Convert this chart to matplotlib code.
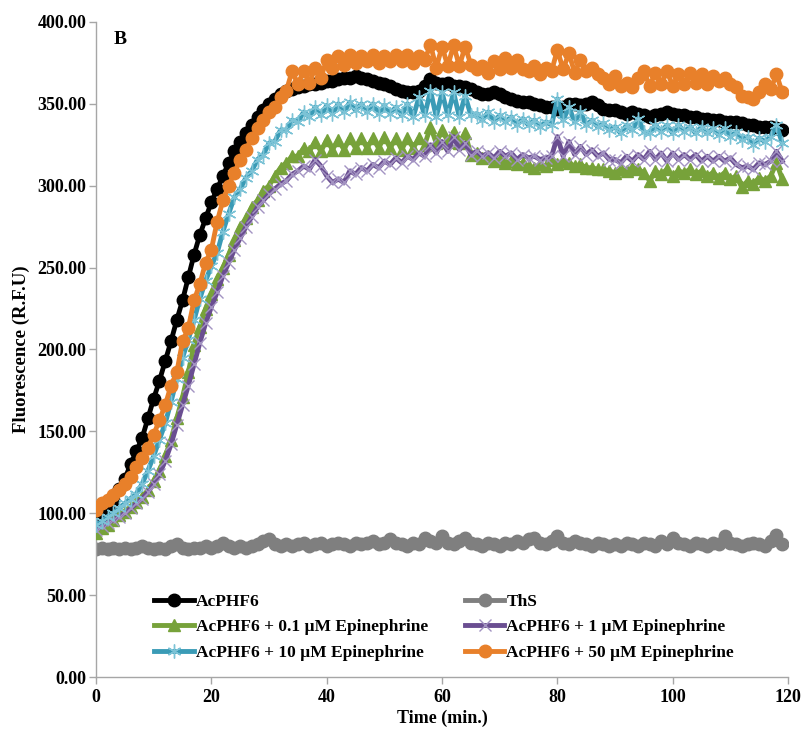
import matplotlib
matplotlib.use("Agg")
import matplotlib.pyplot as plt
from matplotlib.ticker import FormatStrFormatter, MultipleLocator

time_min = list(range(0, 120))

acphf6 = [96, 99, 103, 108, 115, 121, 130, 138, 146, 158,
          170, 181, 193, 205, 218, 230, 244, 258, 270, 280,
          290, 298, 306, 314, 321, 327, 332, 337, 342, 346,
          350, 353, 356, 358, 359, 360, 361, 362, 362, 363,
          364, 364, 365, 366, 366, 367, 366, 365, 364, 363,
          362, 361, 359, 358, 357, 357, 358, 361, 365, 363,
          362, 363, 361, 361, 360, 359, 357, 356, 356, 357,
          356, 354, 353, 352, 351, 351, 350, 349, 348, 348,
          347, 348, 350, 350, 349, 350, 351, 349, 347, 346,
          346, 345, 344, 345, 344, 343, 342, 343, 344, 345,
          344, 343, 343, 342, 342, 341, 341, 340, 340, 339,
          339, 339, 338, 337, 337, 336, 336, 336, 335, 334]

ths = [78, 79, 78, 79, 78, 79, 78, 79, 80, 79,
       78, 79, 78, 80, 81, 79, 78, 79, 79, 80,
       79, 80, 82, 80, 79, 80, 79, 80, 81, 83,
       84, 81, 80, 81, 80, 81, 82, 80, 81, 82,
       80, 81, 82, 81, 80, 82, 81, 82, 83, 81,
       82, 84, 82, 81, 80, 82, 81, 85, 83, 82,
       86, 82, 81, 83, 85, 82, 81, 80, 82, 81,
       80, 82, 81, 83, 82, 84, 85, 82, 81, 83,
       86, 82, 81, 83, 82, 81, 80, 82, 81, 80,
       81, 80, 82, 81, 80, 82, 81, 80, 83, 81,
       85, 82, 81, 80, 82, 81, 80, 82, 81, 86,
       82, 81, 80, 81, 82, 81, 80, 83, 87, 81]

epi_0_1 = [88, 91, 93, 96, 99, 101, 104, 107, 110, 114,
           120, 126, 135, 145, 158, 171, 186, 203, 214, 225,
           234, 243, 250, 258, 267, 275, 280, 287, 291, 297,
           300, 306, 311, 314, 318, 318, 323, 321, 327, 321,
           328, 322, 328, 322, 329, 323, 329, 323, 329, 323,
           330, 323, 329, 322, 329, 323, 329, 325, 336, 326,
           334, 327, 333, 326, 332, 319, 320, 317, 318, 315,
           316, 314, 315, 313, 314, 312, 311, 313, 312, 316,
           313, 315, 314, 312, 313, 311, 311, 310, 310, 309,
           308, 310, 309, 311, 310, 308, 303, 309, 307, 310,
           306, 309, 308, 310, 307, 309, 306, 308, 305, 308,
           304, 306, 299, 303, 301, 305, 303, 306, 314, 304]

epi_1 = [90, 92, 94, 96, 98, 100, 103, 106, 109, 113,
         118, 124, 132, 142, 154, 166, 178, 191, 204, 216,
         226, 235, 245, 253, 261, 268, 275, 281, 287, 291,
         295, 298, 301, 303, 307, 309, 312, 310, 316, 312,
         306, 302, 304, 302, 309, 307, 311, 309, 313, 311,
         315, 313, 317, 314, 318, 316, 320, 318, 325, 320,
         327, 321, 330, 322, 326, 319, 321, 318, 320, 317,
         321, 318, 320, 316, 319, 317, 318, 316, 317, 318,
         330, 318, 327, 319, 324, 319, 322, 318, 320, 316,
         316, 314, 318, 315, 319, 316, 321, 316, 320, 315,
         320, 316, 319, 316, 319, 315, 318, 315, 318, 315,
         317, 313, 311, 312, 310, 314, 313, 315, 321, 315]

epi_10 = [93, 95, 98, 100, 103, 106, 109, 112, 118, 126,
          135, 145, 155, 168, 182, 195, 206, 218, 231, 242,
          251, 259, 272, 283, 293, 298, 305, 309, 316, 319,
          326, 327, 334, 334, 340, 339, 345, 342, 348, 343,
          349, 344, 350, 345, 351, 346, 350, 345, 350, 344,
          349, 344, 348, 343, 350, 342, 354, 343, 358, 342,
          357, 343, 357, 342, 355, 343, 344, 340, 345, 339,
          343, 339, 342, 337, 341, 337, 340, 336, 339, 337,
          353, 340, 348, 339, 345, 337, 340, 336, 338, 334,
          336, 332, 337, 334, 341, 333, 332, 337, 333, 337,
          332, 337, 333, 336, 332, 336, 332, 335, 331, 335,
          330, 333, 328, 330, 325, 329, 327, 330, 337, 326]

epi_50 = [102, 106, 108, 111, 114, 118, 122, 128, 134, 140,
          148, 157, 166, 178, 186, 205, 213, 230, 240, 253,
          261, 278, 291, 300, 308, 316, 322, 329, 335, 340,
          345, 348, 354, 358, 370, 362, 370, 363, 372, 366,
          377, 372, 379, 374, 380, 375, 379, 376, 380, 375,
          379, 376, 380, 376, 380, 375, 379, 377, 386, 372,
          385, 373, 386, 373, 385, 374, 371, 373, 369, 376,
          371, 378, 372, 377, 371, 370, 373, 368, 372, 370,
          383, 371, 381, 369, 377, 370, 372, 368, 366, 362,
          367, 361, 363, 360, 366, 370, 361, 369, 362, 370,
          361, 368, 362, 369, 363, 368, 362, 367, 364, 366,
          362, 360, 355, 354, 353, 357, 362, 359, 368, 357]

labels = ["AcPHF6", "ThS", "AcPHF6 + 0.1 \u00b5M Epinephrine",
          "AcPHF6 + 1 \u00b5M Epinephrine", "AcPHF6 + 10 \u00b5M Epinephrine",
          "AcPHF6 + 50 \u00b5M Epinephrine"]

plt.rcParams['font.family'] = ['Liberation Serif', 'DejaVu Serif']
plt.rcParams['font.weight'] = 'bold'

fig = plt.figure(figsize=(8.01, 7.32), dpi=100)
ax = fig.add_axes([0.1199, 0.0751, 0.8639, 0.8949])

h_black, = ax.plot(time_min, acphf6, color='#000000', lw=3.5, marker='o', ms=9,
                   mec='#000000', mfc='#000000', zorder=3, label=labels[0])
h_gray, = ax.plot(time_min, ths, color='#7f7f7f', lw=3.5, marker='o', ms=9,
                  mec='#7f7f7f', mfc='#7f7f7f', zorder=2, label=labels[1])
h_green, = ax.plot(time_min, epi_0_1, color='#77a23a', lw=3.5, marker='^', ms=8.5,
                   mec='#77a23a', mfc='#77a23a', zorder=4, label=labels[2])
h_purple, = ax.plot(time_min, epi_1, color='#6a4e91', lw=3.5, marker='x', ms=8,
                    mec='#a393c2', mew=1.0, zorder=5, label=labels[3])
h_cyan, = ax.plot(time_min, epi_10, color='#3a9bb6', lw=3.5, marker=(6, 2, 0), ms=10,
                  mec='#7cc3d6', mew=1.0, zorder=6, label=labels[4])
h_orange, = ax.plot(time_min, epi_50, color='#e8802a', lw=3.5, marker='o', ms=9,
                    mec='#e8802a', mfc='#e8802a', zorder=7, label=labels[5])

ax.set_xlim(0, 120)
ax.set_ylim(0, 400)
ax.xaxis.set_major_locator(MultipleLocator(20))
ax.yaxis.set_major_locator(MultipleLocator(50))
ax.yaxis.set_major_formatter(FormatStrFormatter('%.2f'))

for s in ['top', 'right']:
    ax.spines[s].set_visible(False)
for s in ['left', 'bottom']:
    ax.spines[s].set_color('#a6a6a6')
    ax.spines[s].set_linewidth(1.0)
ax.tick_params(axis='both', direction='out', length=5, color='#a6a6a6',
               labelsize=13, width=1.0)
ax.tick_params(axis='y', pad=2)
for lab in ax.get_xticklabels() + ax.get_yticklabels():
    lab.set_fontweight('bold')

ax.set_xlabel('Time (min.)', fontsize=13, fontweight='bold', labelpad=3)
ax.set_ylabel('Fluorescence (R.F.U)', fontsize=13.5, fontweight='bold', labelpad=5)

ax.text(4.2, 389, 'B', fontsize=14, fontweight='bold', ha='center', va='center')

handles = [h_black, h_green, h_cyan, h_gray, h_purple, h_orange]
leg = ax.legend(handles, [h.get_label() for h in handles], ncol=2, frameon=False,
                loc='upper left', bbox_to_anchor=(0.074, 0.138), fontsize=12.5,
                handlelength=2.3, handletextpad=0.1, columnspacing=2.1,
                labelspacing=0.55, borderaxespad=0)
for t in leg.get_texts():
    t.set_fontweight('bold')

fig.savefig('out.png', dpi=100)
